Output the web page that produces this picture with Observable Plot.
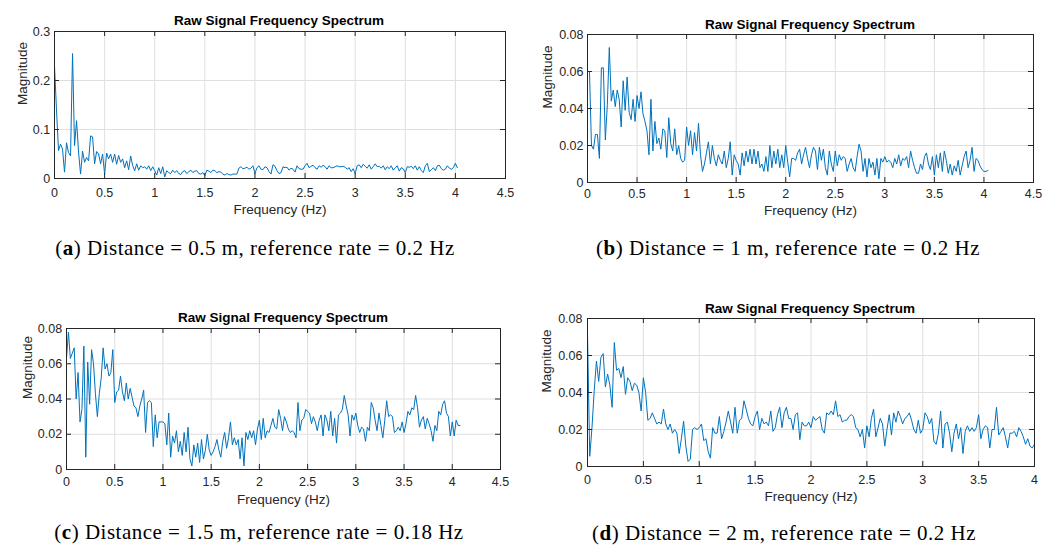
<!DOCTYPE html>
<html><head><meta charset="utf-8">
<script src="https://cdn.jsdelivr.net/npm/d3@7"></script>
<script src="https://cdn.jsdelivr.net/npm/@observablehq/plot@0.6"></script>
<style>
body{margin:0;background:#fff;}
#root{position:relative;width:1056px;height:549px;overflow:hidden;background:#fff;}
.panel{position:absolute;}
.title{position:absolute;font:bold 13.5px "Liberation Sans",Arial,sans-serif;color:#000;transform:translate(-50%,-50%);white-space:nowrap;}
.caption{position:absolute;font:21px "Liberation Serif","Times New Roman",serif;color:#000;transform:translate(-50%,-50%);white-space:nowrap;letter-spacing:0.5px;}
</style></head><body><div id="root"></div>
<script>
// frequency bin spacing (Hz)
const df = 0.02;
const xTicks45 = [0,0.5,1,1.5,2,2.5,3,3.5,4,4.5];
const xTicks40 = [0,0.5,1,1.5,2,2.5,3,3.5,4];
const yTicksA = [0,0.1,0.2,0.3];
const yTicksB = [0,0.02,0.04,0.06,0.08];
const titleText = "Raw Signal Frequency Spectrum";
const xLabel = "Frequency (Hz)";
const yLabel = "Magnitude";
const captions = [
  ["a", "Distance = 0.5 m, reference rate = 0.2 Hz"],
  ["b", "Distance = 1 m, reference rate = 0.2 Hz"],
  ["c", "Distance = 1.5 m, reference rate = 0.18 Hz"],
  ["d", "Distance = 2 m, reference rate = 0.2 Hz"]
];

const magA = [0.23,0.14,0.057,0.07,0.06,0.013,0.073,0.053,0.046,0.255,
0.067,0.118,0.054,0.009,0.056,0.033,0.043,0.036,0.087,0.085,
0.03,0.055,0.05,0.03,0.05,0.009,0.052,0.04,0.05,0.033,
0.05,0.029,0.047,0.033,0.04,0.022,0.036,0.018,0.046,0.026,
0.016,0.03,0.017,0.026,0.022,0.024,0.019,0.026,0.016,0.024,
0.016,0.007,0.022,0.01,0.024,0.003,0.016,0.012,0.01,0.017,
0.012,0.016,0.01,0.008,0.014,0.016,0.01,0.014,0.017,0.012,
0.015,0.016,0.01,0.009,0.012,0.006,0.017,0.015,0.012,0.017,
0.016,0.012,0.014,0.013,0.009,0.007,0.01,0.008,0.007,0.009,
0.009,0.009,0.021,0.024,0.02,0.021,0.023,0.019,0.021,0.026,
0.01,0.022,0.026,0.019,0.018,0.024,0.022,0.014,0.009,0.028,
0.025,0.016,0.01,0.012,0.024,0.022,0.023,0.017,0.021,0.019,
0.013,0.026,0.02,0.019,0.019,0.026,0.031,0.022,0.025,0.027,
0.022,0.019,0.026,0.023,0.027,0.024,0.019,0.026,0.022,0.022,
0.024,0.026,0.024,0.024,0.025,0.023,0.019,0.022,0.014,0.02,
0.01,0.026,0.028,0.022,0.029,0.025,0.021,0.028,0.019,0.024,
0.03,0.024,0.025,0.021,0.026,0.018,0.024,0.02,0.026,0.017,
0.022,0.026,0.015,0.022,0.02,0.012,0.024,0.023,0.025,0.02,
0.026,0.017,0.024,0.016,0.012,0.026,0.031,0.014,0.018,0.022,
0.016,0.026,0.027,0.02,0.017,0.019,0.026,0.021,0.019,0.022,
0.031,0.022];

const magB = [0.06,0.06,0.02,0.018,0.026,0.026,0.013,0.062,0.062,0.023,
0.042,0.073,0.044,0.05,0.041,0.05,0.045,0.03,0.055,0.039,
0.057,0.038,0.034,0.045,0.033,0.047,0.04,0.049,0.037,0.033,
0.028,0.015,0.045,0.017,0.033,0.021,0.024,0.018,0.029,0.028,
0.0135,0.035,0.021,0.017,0.029,0.015,0.02,0.013,0.011,0.012,
0.03,0.02,0.028,0.015,0.027,0.017,0.032,0.015,0.006,0.01,
0.016,0.022,0.01,0.02,0.013,0.009,0.015,0.012,0.01,0.017,
0.008,0.013,0.022,0.004,0.015,0.012,0.01,0.004,0.016,0.009,
0.017,0.011,0.018,0.01,0.018,0.01,0.017,0.008,0.01,0.006,
0.014,0.006,0.02,0.008,0.017,0.01,0.018,0.008,0.015,0.008,
0.02,0.011,0.003,0.013,0.013,0.012,0.016,0.018,0.01,0.015,
0.019,0.013,0.008,0.015,0.019,0.017,0.007,0.019,0.012,0.018,
0.008,0.004,0.017,0.01,0.006,0.017,0.009,0.015,0.012,0.014,
0.013,0.006,0.01,0.013,0.008,0.006,0.014,0.0207,0.017,0.006,
0.013,0.003,0.013,0.008,0.011,0.004,0.013,0.002,0.013,0.011,
0.014,0.011,0.012,0.011,0.008,0.013,0.01,0.015,0.009,0.013,
0.012,0.014,0.008,0.017,0.012,0.008,0.005,0.005,0.01,0.007,
0.014,0.016,0.01,0.007,0.014,0.004,0.015,0.008,0.016,0.006,
0.017,0.012,0.005,0.01,0.004,0.009,0.006,0.012,0.004,0.009,
0.014,0.017,0.008,0.012,0.019,0.006,0.013,0.012,0.009,0.007,
0.006,0.006,0.0065];

const magC = [0.063,0.078,0.063,0.066,0.069,0.04,0.055,0.027,0.034,0.07,
0.007,0.061,0.037,0.068,0.06,0.043,0.03,0.043,0.052,0.069,
0.057,0.06,0.053,0.055,0.068,0.038,0.044,0.045,0.053,0.044,
0.039,0.049,0.04,0.046,0.041,0.036,0.035,0.03,0.036,0.04,
0.045,0.021,0.038,0.039,0.038,0.013,0.031,0.018,0.027,0.027,
0.027,0.026,0.014,0.032,0.007,0.019,0.015,0.022,0.01,0.016,
0.008,0.021,0.01,0.024,0.006,0.002,0.014,0.007,0.015,0.004,
0.017,0.006,0.011,0.02,0.011,0.008,0.01,0.013,0.017,0.011,
0.007,0.016,0.021,0.012,0.018,0.027,0.014,0.018,0.014,0.017,
0.006,0.018,0.002,0.021,0.017,0.022,0.018,0.022,0.014,0.023,
0.028,0.017,0.029,0.018,0.022,0.021,0.025,0.029,0.024,0.023,
0.034,0.029,0.022,0.03,0.027,0.023,0.021,0.022,0.021,0.018,
0.038,0.022,0.028,0.029,0.034,0.033,0.032,0.026,0.03,0.027,
0.022,0.028,0.031,0.019,0.031,0.028,0.022,0.033,0.019,0.029,
0.015,0.031,0.032,0.034,0.042,0.036,0.031,0.019,0.031,0.028,
0.032,0.025,0.021,0.024,0.023,0.016,0.024,0.022,0.038,0.035,
0.028,0.022,0.032,0.025,0.018,0.028,0.039,0.03,0.031,0.03,
0.021,0.022,0.024,0.022,0.027,0.021,0.026,0.033,0.031,0.035,
0.034,0.042,0.035,0.024,0.028,0.03,0.023,0.029,0.026,0.022,
0.016,0.025,0.022,0.033,0.031,0.037,0.039,0.032,0.03,0.019,
0.027,0.019,0.028,0.025,0.025];

const magD = [0.072,0.0055,0.021,0.041,0.057,0.046,0.059,0.061,0.043,0.05,
0.044,0.032,0.067,0.052,0.053,0.048,0.054,0.039,0.048,0.046,
0.041,0.045,0.044,0.04,0.03,0.048,0.04,0.025,0.026,0.029,
0.026,0.023,0.024,0.023,0.031,0.023,0.02,0.023,0.018,0.02,
0.018,0.007,0.015,0.0245,0.011,0.0027,0.004,0.02,0.021,0.02,
0.021,0.023,0.014,0.015,0.008,0.0045,0.021,0.018,0.018,0.027,
0.015,0.019,0.024,0.03,0.024,0.018,0.032,0.018,0.025,0.026,
0.0355,0.031,0.026,0.023,0.022,0.027,0.03,0.02,0.026,0.023,
0.024,0.022,0.03,0.019,0.021,0.028,0.032,0.021,0.029,0.032,
0.026,0.026,0.02,0.028,0.029,0.0145,0.024,0.022,0.022,0.024,
0.021,0.027,0.025,0.026,0.027,0.02,0.018,0.029,0.028,0.03,
0.028,0.0355,0.027,0.028,0.024,0.025,0.025,0.027,0.028,0.027,
0.021,0.02,0.016,0.02,0.01,0.022,0.016,0.026,0.031,0.016,
0.021,0.026,0.023,0.011,0.02,0.028,0.017,0.029,0.024,0.03,
0.027,0.023,0.026,0.027,0.029,0.025,0.02,0.018,0.025,0.018,
0.02,0.029,0.027,0.023,0.026,0.0136,0.012,0.018,0.03,0.01,
0.023,0.024,0.018,0.008,0.018,0.023,0.015,0.021,0.007,0.019,
0.022,0.019,0.021,0.019,0.021,0.028,0.015,0.02,0.022,0.021,
0.01,0.02,0.02,0.032,0.017,0.019,0.021,0.016,0.01,0.018,
0.018,0.019,0.016,0.021,0.019,0.016,0.012,0.015,0.011,0.01,
0.012];

const root = document.getElementById("root");

function addDiv(cls, html, x, y) {
  const d = document.createElement("div");
  d.className = cls;
  d.innerHTML = html;
  d.style.left = x + "px";
  d.style.top = y + "px";
  root.appendChild(d);
}

function panel(o) {
  const data = o.mag.map((m, i) => ({f: i * df, m}));
  const fh = o.height - o.mT - o.mB;
  const fw = o.width - o.mL - o.mR;
  const tk = 5;
  const axisColor = "#262626";
  const svg = Plot.plot({
    width: o.width, height: o.height,
    marginLeft: o.mL, marginRight: o.mR, marginTop: o.mT, marginBottom: o.mB,
    style: {fontFamily: "'Liberation Sans', Arial, sans-serif", fontSize: "12.5px", color: axisColor, background: "transparent", overflow: "visible"},
    x: {domain: o.xDomain, ticks: o.xTicks},
    y: {domain: o.yDomain, ticks: o.yTicks},
    marks: [
      Plot.gridX(o.xTicks, {stroke: "#dfdfdf", strokeOpacity: 1}),
      Plot.gridY(o.yTicks, {stroke: "#dfdfdf", strokeOpacity: 1}),
      Plot.line(data, {x: "f", y: "m", stroke: "#0072BD", strokeWidth: 1, clip: true}),
      Plot.tickX(o.xTicks, {x: d => d, insetTop: fh - tk, stroke: axisColor}),
      Plot.tickX(o.xTicks, {x: d => d, insetBottom: fh - tk, stroke: axisColor}),
      Plot.tickY(o.yTicks, {y: d => d, insetRight: fw - tk, stroke: axisColor}),
      Plot.tickY(o.yTicks, {y: d => d, insetLeft: fw - tk, stroke: axisColor}),
      Plot.axisX({ticks: o.xTicks, tickSize: 0, tickPadding: o.xPad, tickFormat: d => String(d), label: null}),
      Plot.axisY({ticks: o.yTicks, tickSize: 0, tickPadding: o.yPad, tickFormat: d => String(d), label: null}),
      Plot.text([xLabel], {frameAnchor: "bottom", dy: o.xLabDy, fontSize: 13.5, fill: axisColor}),
      Plot.text([yLabel], {frameAnchor: "left", dx: o.yLabDx, rotate: -90, fontSize: 13.5, fill: axisColor}),
      Plot.frame({stroke: axisColor, strokeWidth: 1})
    ]
  });
  svg.classList.add("panel");
  svg.style.left = o.left + "px";
  svg.style.top = o.top + "px";
  root.appendChild(svg);
  addDiv("title", titleText, o.titleX, o.titleY);
}

panel({mag: magA, xDomain: [0, 4.5], xTicks: xTicks45, yDomain: [0, 0.3], yTicks: yTicksA,
  left: 0, top: 26, width: 530, height: 200, mL: 54, mR: 25, mT: 5, mB: 48,
  xPad: 9.5, yPad: 4.4, xLabDy: 35, yLabDx: -32, titleX: 279, titleY: 19.5});
panel({mag: magB, xDomain: [0, 4.5], xTicks: xTicks45, yDomain: [0, 0.08], yTicks: yTicksB,
  left: 530, top: 29, width: 526, height: 200, mL: 57, mR: 23, mT: 5, mB: 47,
  xPad: 7, yPad: 4, xLabDy: 32, yLabDx: -40, titleX: 810, titleY: 24});
panel({mag: magC, xDomain: [0, 4.5], xTicks: xTicks45, yDomain: [0, 0.08], yTicks: yTicksB,
  left: 0, top: 322, width: 530, height: 195, mL: 66, mR: 30, mT: 6, mB: 48,
  xPad: 8, yPad: 4.3, xLabDy: 34, yLabDx: -39, titleX: 283, titleY: 317});
panel({mag: magD, xDomain: [0, 4], xTicks: xTicks40, yDomain: [0, 0.08], yTicks: yTicksB,
  left: 530, top: 312, width: 526, height: 200, mL: 57, mR: 22, mT: 6, mB: 46,
  xPad: 9, yPad: 5, xLabDy: 34, yLabDx: -41, titleX: 810, titleY: 307.5});

const capPos = [[255, 248], [788, 248], [259, 532], [784, 533]];
captions.forEach(([k, t], i) => addDiv("caption", "(<b>" + k + "</b>) " + t, capPos[i][0], capPos[i][1]));
</script>
</body></html>
